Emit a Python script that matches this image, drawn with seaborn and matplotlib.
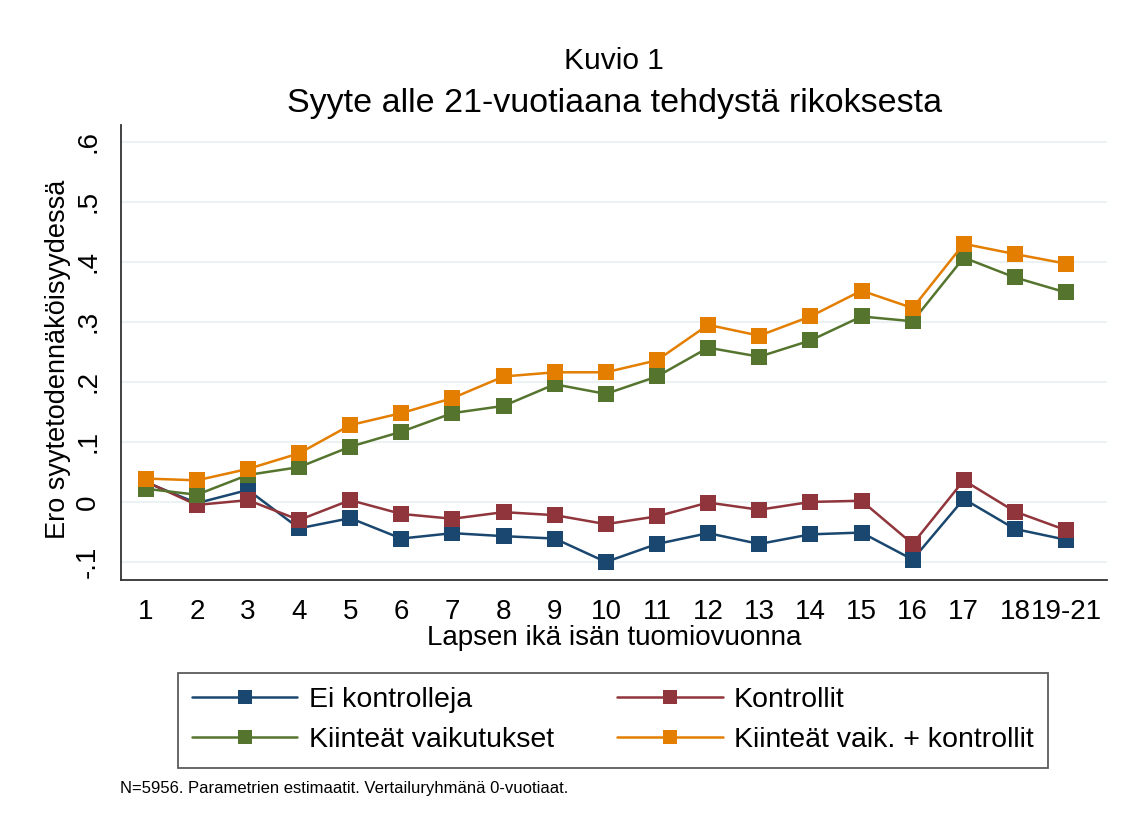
import numpy as np
import pandas as pd
import matplotlib
matplotlib.use("Agg")
import matplotlib.pyplot as plt
import seaborn as sns

# Values
ages = ["1", "2", "3", "4", "5", "6", "7", "8", "9", "10",
        "11", "12", "13", "14", "15", "16", "17", "18", "19-21"]
ei_kontrolleja = [0.033, -0.002, 0.020, -0.044, -0.027, -0.061, -0.052, -0.057, -0.061, -0.100,
                  -0.070, -0.052, -0.070, -0.054, -0.051, -0.096, 0.005, -0.045, -0.063]
kontrollit = [0.034, -0.005, 0.003, -0.030, 0.003, -0.020, -0.028, -0.017, -0.022, -0.037,
              -0.024, -0.001, -0.013, 0.000, 0.002, -0.070, 0.036, -0.016, -0.047]
kiinteat = [0.022, 0.012, 0.045, 0.058, 0.092, 0.117, 0.148, 0.160, 0.196, 0.180,
            0.209, 0.257, 0.242, 0.269, 0.309, 0.301, 0.407, 0.374, 0.349]
kiinteat_kontr = [0.039, 0.036, 0.055, 0.081, 0.128, 0.148, 0.173, 0.209, 0.216, 0.216,
                  0.236, 0.295, 0.277, 0.309, 0.352, 0.323, 0.430, 0.413, 0.397]

series = {
    "Ei kontrolleja": ei_kontrolleja,
    "Kontrollit": kontrollit,
    "Kiinteät vaikutukset": kiinteat,
    "Kiinteät vaik. + kontrollit": kiinteat_kontr,
}
colors = ["#1a476f", "#90353b", "#55752f", "#e37e00"]

rows = []
for name, vals in series.items():
    for i, v in enumerate(vals):
        rows.append({"x": i + 1, "value": v, "malli": name})
df = pd.DataFrame(rows)

sns.set_style("white")
plt.rcParams["font.family"] = ["Liberation Sans", "DejaVu Sans"]
plt.rcParams["text.color"] = "black"
plt.rcParams["axes.labelcolor"] = "black"

fig = plt.figure(figsize=(11.33, 8.25), dpi=100)
ax = fig.add_axes([0.1065, 0.297, 0.8705, 0.5515])

sns.lineplot(data=df, x="x", y="value", hue="malli", palette=colors,
             marker="s", markersize=12, markeredgewidth=0, linewidth=1.8,
             ax=ax, legend=False)

ax.set_xlim(0.51, 19.8)
ax.set_ylim(-0.13, 0.628)
ax.set_xticks(range(1, 20))
ax.set_xticklabels(ages, fontsize=20)
yt = [-0.1, 0, 0.1, 0.2, 0.3, 0.4, 0.5, 0.6]
ax.set_yticks(yt)
ax.set_yticklabels(["-.1", "0", ".1", ".2", ".3", ".4", ".5", ".6"],
                   fontsize=20, rotation=90, va="center")
ax.yaxis.grid(True, color="#eaf2f3", linewidth=1.5)
ax.xaxis.grid(False)
ax.tick_params(axis="both", direction="out", length=9, width=1.3,
               color="#555555", labelcolor="black")
ax.tick_params(axis="x", pad=5)
ax.tick_params(axis="y", pad=5)
for s in ["top", "right"]:
    ax.spines[s].set_visible(False)
for s in ["left", "bottom"]:
    ax.spines[s].set_color("#333333")
    ax.spines[s].set_linewidth(1.3)

ax.set_xlabel("Lapsen ikä isän tuomiovuonna", fontsize=20, labelpad=0)
ax.set_ylabel("Ero syytetodennäköisyydessä", fontsize=19.5)
ax.yaxis.set_label_coords(-0.05, 0.485)

fig.text(0.542, 0.926, "Kuvio 1", ha="center", va="center", fontsize=21.5)
fig.text(0.542, 0.875, "Syyte alle 21-vuotiaana tehdystä rikoksesta",
         ha="center", va="center", fontsize=24.5)

# legend filled column-wise, so reorder to get rows like the reference
lines = ax.get_lines()[:4]
names = list(series.keys())
order = [0, 2, 1, 3]
leg = fig.legend([lines[i] for i in order], [names[i] for i in order], ncol=2,
                 loc="center", bbox_to_anchor=(0.157, 0.127, 0.768, 0.0),
                 mode="expand", fontsize=20.5, numpoints=1, markerscale=0.8,
                 handlelength=3.7, handletextpad=0.4, columnspacing=1.5,
                 labelspacing=0.5, frameon=True, fancybox=False,
                 borderpad=0.5, borderaxespad=0)
leg.get_frame().set_edgecolor("#333333")
leg.get_frame().set_linewidth(1.3)

fig.text(0.106, 0.044, "N=5956. Parametrien estimaatit. Vertailuryhmänä 0-vuotiaat.",
         fontsize=12, ha="left", va="center")

fig.savefig("out.png", dpi=100, facecolor="white")
